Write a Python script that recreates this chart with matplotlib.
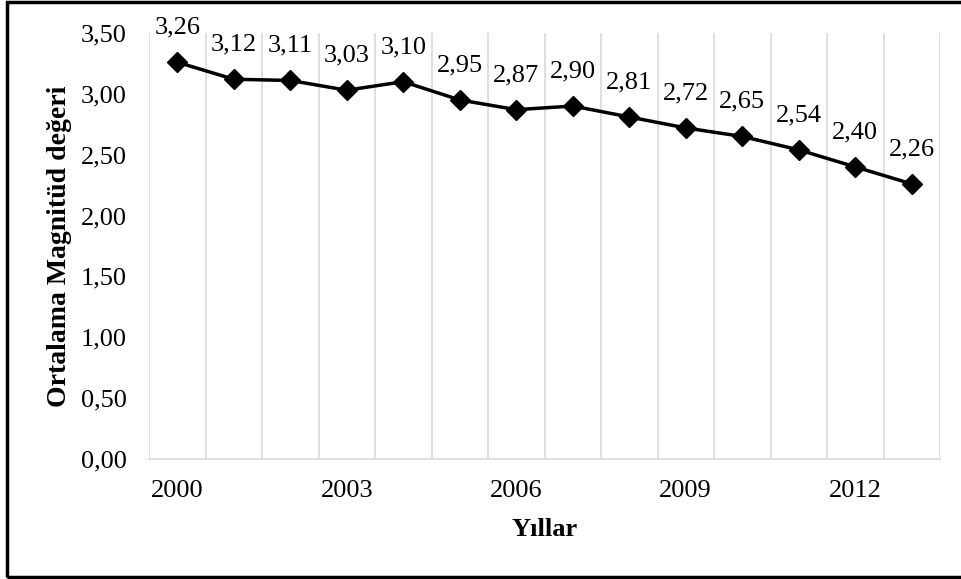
import numpy as np
import matplotlib
matplotlib.use('Agg')
import matplotlib.pyplot as plt
from matplotlib.patches import Rectangle
from matplotlib.ticker import FuncFormatter

plt.rcParams['font.family'] = ['Liberation Serif', 'DejaVu Serif']

years = [2000, 2001, 2002, 2003, 2004, 2005, 2006, 2007,
         2008, 2009, 2010, 2011, 2012, 2013]
magnitude = [3.26, 3.12, 3.11, 3.03, 3.10, 2.95, 2.87, 2.90,
             2.81, 2.72, 2.65, 2.54, 2.40, 2.26]
y_ticks = [0.0, 0.5, 1.0, 1.5, 2.0, 2.5, 3.0, 3.5]


def comma(v, pos=None):
    return ('%.2f' % v).replace('.', ',')


fig = plt.figure(figsize=(9.61, 5.79), dpi=100)
ax = fig.add_axes([149 / 961, 1 - 459 / 579, 791 / 961, 426 / 579])

x = np.arange(len(years))
ax.plot(x, magnitude, color='black', lw=2.5, marker='D', ms=10, zorder=3)

for xi, v in zip(x, magnitude):
    ax.annotate(comma(v), (xi, v), xytext=(0, 25), textcoords='offset points',
                ha='center', va='center', fontsize=19)

ax.set_xlim(-0.5, len(years) - 0.5)
ax.set_ylim(0, 3.5)
ax.set_yticks(y_ticks)
ax.yaxis.set_major_formatter(FuncFormatter(comma))

ax.set_xticks(x[::3])
ax.set_xticklabels([str(y) for y in years[::3]])
ax.set_xticks(np.arange(-0.5, len(years)), minor=True)
ax.grid(which='minor', axis='x', color='#d9d9d9', lw=1.2)
ax.tick_params(which='both', length=0)
ax.tick_params(axis='y', pad=16, labelsize=19)
ax.tick_params(axis='x', pad=15, labelsize=19)

for s in ['top', 'right', 'left']:
    ax.spines[s].set_visible(False)
ax.spines['bottom'].set_color('#d9d9d9')
ax.spines['bottom'].set_linewidth(1.2)

ax.set_ylabel('Ortalama Magnitüd değeri', fontsize=20, fontweight='bold')
ax.yaxis.set_label_coords(-0.097, 0.5)
ax.set_xlabel('Yıllar', fontsize=19, fontweight='bold')
ax.xaxis.set_label_coords(0.5, -0.138)

# outer frame (right side runs off the picture)
fig.patches.append(Rectangle((7 / 961, 2 / 579), 1.0, 575 / 579,
                             transform=fig.transFigure, fill=False,
                             edgecolor='black', lw=2.5))

fig.savefig('out.png', dpi=100)
